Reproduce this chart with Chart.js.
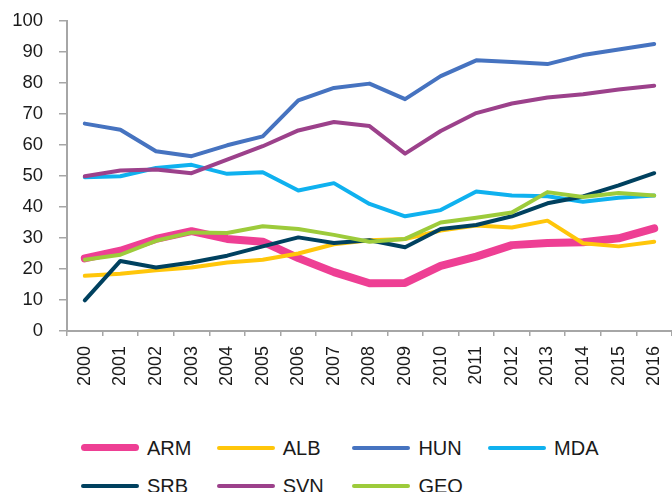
<!DOCTYPE html>
<html>
<head>
<meta charset="utf-8">
<script src="https://cdn.jsdelivr.net/npm/chart.js@4"></script>
<style>
    html, body { margin: 0; padding: 0; background: #fff; overflow: hidden; }
    #wrap { position: relative; width: 672px; height: 492px; font-family: 'Liberation Sans', Arial, sans-serif; }
    #chartBox { position: absolute; left: 0; top: 0; width: 672px; height: 410px; }
    .lg-item { position: absolute; height: 24px; display: flex; align-items: center; }
    .lg-line { width: 58px; border-radius: 4px; }
    .lg-text { margin-left: 8px; font-size: 20px; color: #1a1a1a; line-height: 24px; }
</style>
</head>
<body>
<div id="wrap">
    <div id="chartBox"><canvas id="trendChart" width="672" height="410"></canvas></div>
    <div id="legend"></div>
</div>
<script>
const YEARS = ['2000','2001','2002','2003','2004','2005','2006','2007','2008','2009','2010','2011','2012','2013','2014','2015','2016'];
const Y_TICKS = [0, 10, 20, 30, 40, 50, 60, 70, 80, 90, 100];

const ARM = [23.4, 25.9, 29.7, 32.2, 29.7, 28.8, 23.5, 19.0, 15.4, 15.5, 21.0, 24.0, 27.7, 28.4, 28.6, 29.9, 33.1];
const ALB = [17.8, 18.5, 19.6, 20.5, 22.1, 23.0, 25.0, 28.0, 29.3, 29.7, 32.4, 34.0, 33.4, 35.6, 28.3, 27.3, 28.8];
const HUN = [66.9, 64.9, 58.0, 56.4, 59.9, 62.8, 74.4, 78.4, 79.8, 74.8, 82.2, 87.3, 86.8, 86.1, 89.0, 90.8, 92.6];
const MDA = [49.6, 49.9, 52.6, 53.6, 50.7, 51.2, 45.3, 47.7, 41.0, 37.0, 39.0, 45.0, 43.7, 43.5, 41.7, 43.0, 43.7];
const SRB = [9.9, 22.6, 20.5, 22.1, 24.3, 27.3, 30.2, 28.4, 29.3, 27.0, 32.9, 34.2, 37.0, 41.2, 43.4, 47.0, 50.9];
const SVN = [49.9, 51.8, 52.1, 50.9, 55.3, 59.6, 64.7, 67.4, 66.1, 57.2, 64.5, 70.3, 73.4, 75.3, 76.4, 77.9, 79.1];
const GEO = [23.0, 24.6, 29.1, 31.8, 31.6, 33.8, 32.9, 31.0, 28.8, 29.7, 35.0, 36.5, 38.2, 44.8, 43.2, 44.5, 43.7];

const SERIES_NAMES = ['ARM', 'ALB', 'HUN', 'MDA', 'SRB', 'SVN', 'GEO'];
const SERIES_DATA = [ARM, ALB, HUN, MDA, SRB, SVN, GEO];
const SERIES_COLORS = ['#ee3f94', '#ffc60a', '#4673c0', '#0fb1ef', '#00415f', '#9c418b', '#9dcb3b'];
const SERIES_WIDTHS = [8, 4, 4, 4, 4, 4, 4];

const AXIS_GRAY = '#a6a6a6';
const TEXT_COLOR = '#1a1a1a';
const FONT = "'Liberation Sans', Arial, sans-serif";

const datasets = SERIES_NAMES.map((name, i) => ({
    label: name,
    data: SERIES_DATA[i],
    borderColor: SERIES_COLORS[i],
    backgroundColor: SERIES_COLORS[i],
    borderWidth: SERIES_WIDTHS[i],
    borderCapStyle: 'round',
    borderJoinStyle: 'round',
    pointRadius: 0,
    tension: 0,
    // excel draws the first series at the bottom
    order: SERIES_NAMES.length - i
}));

const ctx = document.getElementById('trendChart').getContext('2d');
new Chart(ctx, {
    type: 'line',
    data: { labels: YEARS, datasets: datasets },
    options: {
        responsive: false,
        animation: false,
        layout: { padding: { top: 21, right: -2, bottom: 0, left: 0 } },
        plugins: { legend: { display: false }, tooltip: { enabled: false } },
        scales: {
            x: {
                offset: true,
                grid: { offset: true, drawOnChartArea: false, drawTicks: true, tickLength: 5, color: AXIS_GRAY, lineWidth: 1.5 },
                border: { display: true, color: AXIS_GRAY, width: 2 },
                ticks: {
                    autoSkip: false, minRotation: 90, maxRotation: 90, padding: 10,
                    color: TEXT_COLOR, font: { family: FONT, size: 18 }
                },
                afterFit: scale => {
                    scale.height = 79;
                    // plot runs off the right edge in the original
                    scale.paddingLeft = 0;
                    scale.paddingRight = 0;
                }
            },
            y: {
                min: 0,
                max: 100,
                afterBuildTicks: scale => { scale.ticks = Y_TICKS.map(v => ({ value: v })); },
                grid: { drawOnChartArea: false, drawTicks: true, tickLength: 8, color: AXIS_GRAY, lineWidth: 1.5 },
                border: { display: true, color: AXIS_GRAY, width: 2 },
                ticks: { padding: 16, color: TEXT_COLOR, font: { family: FONT, size: 18.5 } },
                afterFit: scale => {
                    scale.width = 67;
                    scale.paddingTop = 0;
                    scale.paddingBottom = 0;
                }
            }
        }
    }
});

// legend laid out like the original: 4 fixed-width columns
const legendEl = document.getElementById('legend');
SERIES_NAMES.forEach((name, i) => {
    const col = i % 4, row = Math.floor(i / 4);
    const item = document.createElement('div');
    item.className = 'lg-item';
    item.style.left = (81 + col * 135.7) + 'px';
    item.style.top = (447.5 + row * 38 - 12) + 'px';
    item.innerHTML = `<div class="lg-line" style="height:${i === 0 ? 7 : 4}px;background:${SERIES_COLORS[i]}"></div>` +
        `<span class="lg-text">${name}</span>`;
    legendEl.appendChild(item);
});
</script>
</body>
</html>
